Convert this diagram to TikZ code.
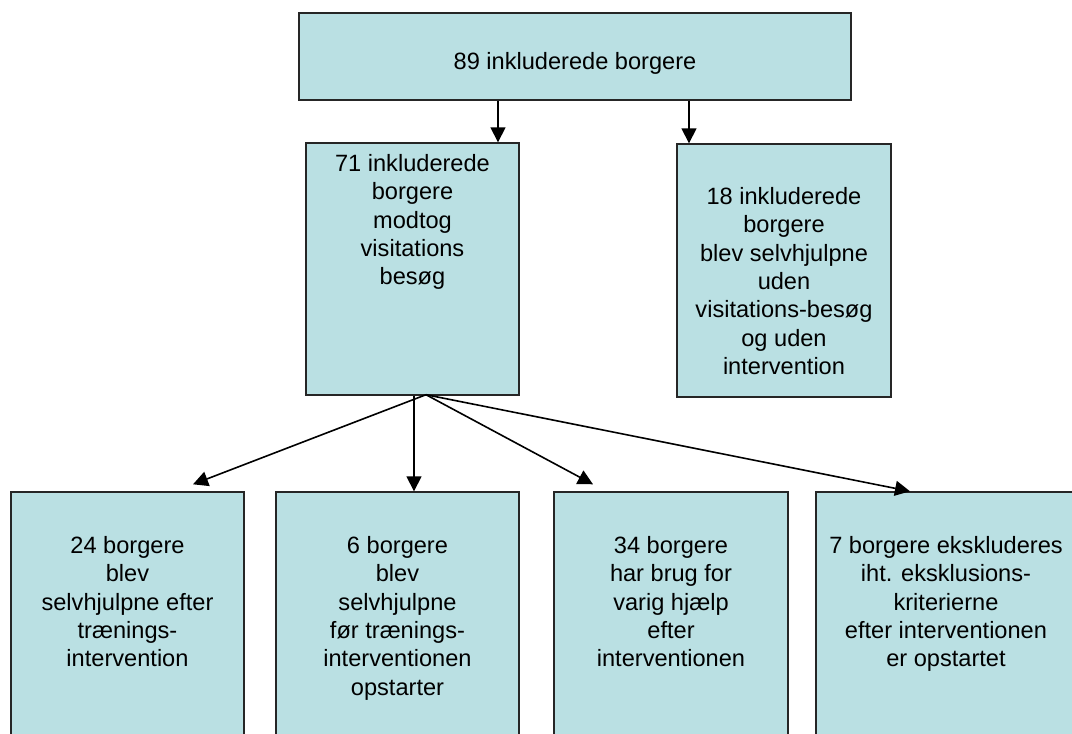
\documentclass[tikz,border=0pt]{standalone}
\usepackage{fontspec}
\setmainfont{Liberation Sans}
\usetikzlibrary{arrows.meta,positioning}
\definecolor{boxfill}{RGB}{186,224,227}

\begin{document}
\begin{tikzpicture}[x=1pt,y=-1pt,
                    box/.style={rectangle,draw=black!85,fill=boxfill,line width=1.4pt,inner sep=0pt},
                    txt/.style={inner sep=0pt,align=center,font=\fontsize{23.6}{28.3}\selectfont},
                    arr/.style={-{Triangle[length=15pt,width=15pt]},line width=1.6pt}]
    \clip (0,0) rectangle (1072,734);
    % boxes
    \node (n89) at (575,56.5) [box,minimum width=552pt,minimum height=87pt] {};
    \node (n71) at (412.5,269) [box,minimum width=213pt,minimum height=252pt] {};
    \node (n18) at (784,270.5) [box,minimum width=214pt,minimum height=253pt] {};
    \node (n24) at (127.5,622) [box,minimum width=233pt,minimum height=260pt] {};
    \node (n6) at (397.5,622) [box,minimum width=243pt,minimum height=260pt] {};
    \node (n34) at (671,622) [box,minimum width=234pt,minimum height=260pt] {};
    \node (n7) at (946,622) [box,minimum width=260pt,minimum height=260pt] {};
    % texts
    \node (t89) [txt,below=40pt of n89.north] {89 inkluderede borgere};
    \node (t71) [txt,below=12pt of n71.north] {71 inkluderede\\borgere\\modtog\\visitations\\besøg};
    \node (t18) [txt,below=44pt of n18.north] {18 inkluderede\\borgere\\blev selvhjulpne\\uden\\visitations-besøg\\og uden\\intervention};
    \node (t24) [txt,below=45pt of n24.north] {24 borgere\\blev\\selvhjulpne efter\\trænings-\\intervention};
    \node (t6) [txt,below=45pt of n6.north] {6 borgere\\blev\\selvhjulpne\\før trænings-\\interventionen\\opstarter};
    \node (t34) [txt,below=45pt of n34.north] {34 borgere\\har brug for\\varig hjælp\\efter\\interventionen};
    \node (t7) [txt,below=45pt of n7.north] {7 borgere ekskluderes\\iht. eksklusions-\\kriterierne\\efter interventionen\\er opstartet};
    % arrows
    \draw [arr] ([xshift=85.5pt]n71.north |- n89.south) to ([xshift=85.5pt]n71.north);
    \draw [arr] ([xshift=-95pt]n18.north |- n89.south) to ([xshift=-95pt]n18.north);
    \coordinate (split) at ([xshift=13.5pt,yshift=1pt]n71.south);
    \draw [arr] (split) to ([xshift=65.5pt,yshift=7pt]n24.north);
    \draw [arr] ([xshift=16.5pt]n6.north |- n71.south) to ([xshift=16.5pt]n6.north);
    \draw [arr] (split) to ([xshift=-78pt,yshift=7pt]n34.north);
    \draw [arr] (split) to ([xshift=-36pt]n7.north);
\end{tikzpicture}
\end{document}
